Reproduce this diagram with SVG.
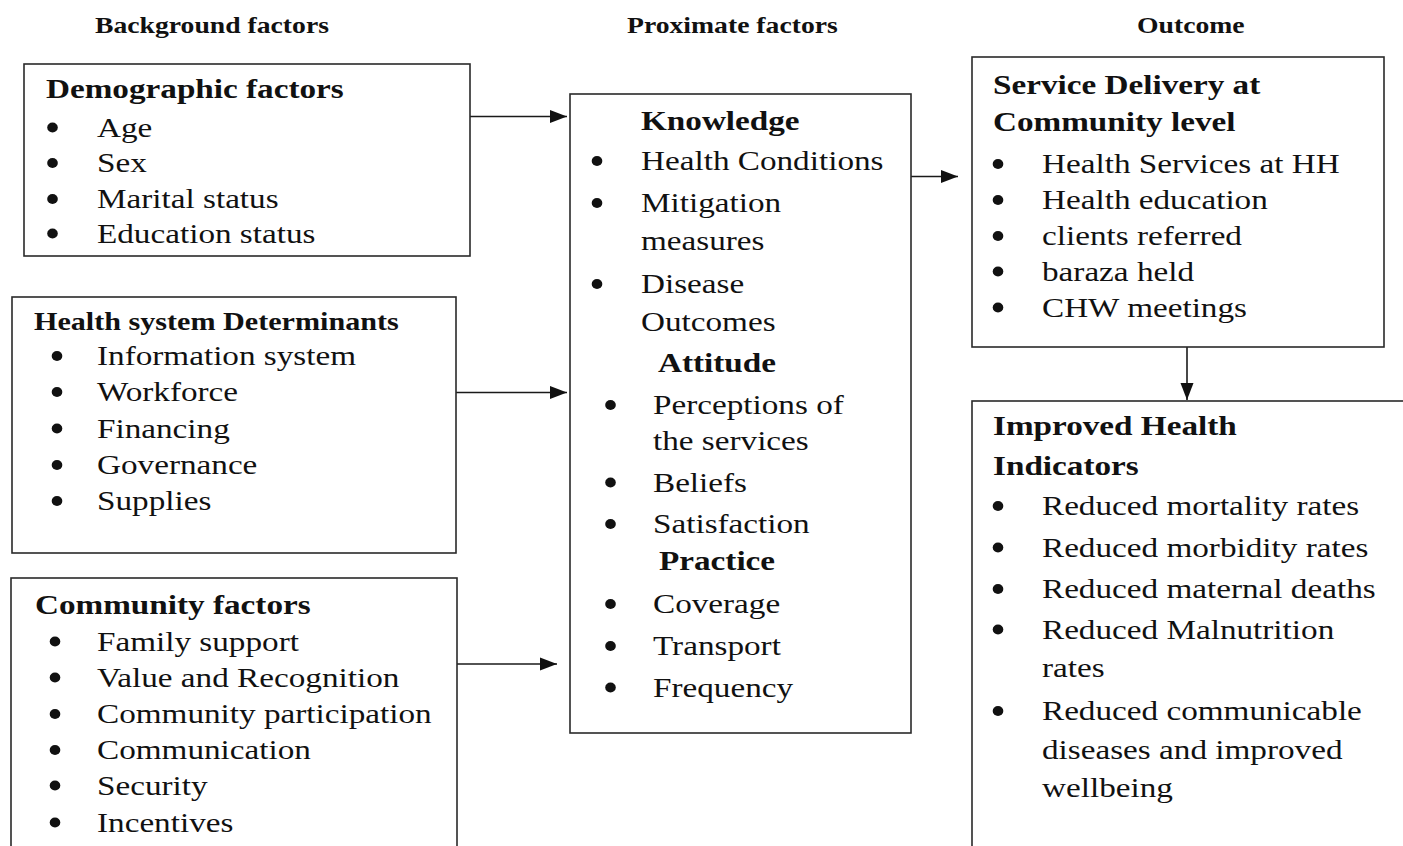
<svg xmlns="http://www.w3.org/2000/svg" width="1403" height="846" viewBox="0 0 1403 846">
<style>
text{font-family:"Liberation Serif","Times New Roman",serif;fill:#111}
.h{font-size:22.5px;font-weight:bold}
.t{font-size:27px;font-weight:bold}
.t2{font-size:24.5px;font-weight:bold}
.b{font-size:27px}
.box{fill:#fff;stroke:#2a2a2a;stroke-width:1.6}
.con{stroke:#1a1a1a;stroke-width:1.6;fill:none}
.bul{fill:#111}
</style>
<defs>
<marker id="ah" markerUnits="userSpaceOnUse" markerWidth="18" markerHeight="14" refX="17" refY="7" orient="auto">
<path d="M0,0.5 L17,7 L0,13.5 z" fill="#111"/>
</marker>
</defs>
<rect width="1403" height="846" fill="#fff"/>

<g id="headers">
<text class="h" transform="translate(95 33) scale(1.23 1)">Background factors</text>
<text class="h" transform="translate(627 33) scale(1.23 1)">Proximate factors</text>
<text class="h" transform="translate(1137 33) scale(1.23 1)">Outcome</text>
</g>

<g id="connectors">
<line class="con" x1="470" y1="116.5" x2="567" y2="116.5" marker-end="url(#ah)"/>
<line class="con" x1="456" y1="392.5" x2="567" y2="392.5" marker-end="url(#ah)"/>
<line class="con" x1="457" y1="664" x2="557" y2="664" marker-end="url(#ah)"/>
<line class="con" x1="911" y1="176.5" x2="958" y2="176.5" marker-end="url(#ah)"/>
<line class="con" x1="1187" y1="347" x2="1187" y2="400" marker-end="url(#ah)"/>
</g>

<g id="demographic">
<rect class="box" x="24" y="64" width="446" height="192"/>
<text class="t" transform="translate(46 98) scale(1.23 1)">Demographic factors</text>
<ellipse class="bul" cx="52.5" cy="127.5" rx="5.3" ry="5"/>
<text class="b" transform="translate(97 136.5) scale(1.23 1)">Age</text>
<ellipse class="bul" cx="52.5" cy="163" rx="5.3" ry="5"/>
<text class="b" transform="translate(97 172) scale(1.23 1)">Sex</text>
<ellipse class="bul" cx="52.5" cy="199" rx="5.3" ry="5"/>
<text class="b" transform="translate(97 208) scale(1.23 1)">Marital status</text>
<ellipse class="bul" cx="52.5" cy="233.5" rx="5.3" ry="5"/>
<text class="b" transform="translate(97 242.5) scale(1.23 1)">Education status</text>
</g>

<g id="health-system">
<rect class="box" x="12" y="297" width="444" height="256"/>
<text class="t2" transform="translate(34 330) scale(1.23 1)">Health system Determinants</text>
<ellipse class="bul" cx="57" cy="356" rx="5.3" ry="5"/>
<text class="b" transform="translate(97 365) scale(1.23 1)">Information system</text>
<ellipse class="bul" cx="57" cy="392" rx="5.3" ry="5"/>
<text class="b" transform="translate(97 401) scale(1.23 1)">Workforce</text>
<ellipse class="bul" cx="57" cy="428.5" rx="5.3" ry="5"/>
<text class="b" transform="translate(97 437.5) scale(1.23 1)">Financing</text>
<ellipse class="bul" cx="57" cy="465" rx="5.3" ry="5"/>
<text class="b" transform="translate(97 474) scale(1.23 1)">Governance</text>
<ellipse class="bul" cx="57" cy="501" rx="5.3" ry="5"/>
<text class="b" transform="translate(97 510) scale(1.23 1)">Supplies</text>
</g>

<g id="community">
<rect class="box" x="11" y="578" width="446" height="300"/>
<text class="t" transform="translate(35 613.5) scale(1.23 1)">Community factors</text>
<ellipse class="bul" cx="55" cy="641.5" rx="5.3" ry="5"/>
<text class="b" transform="translate(97 650.5) scale(1.23 1)">Family support</text>
<ellipse class="bul" cx="55" cy="677.5" rx="5.3" ry="5"/>
<text class="b" transform="translate(97 686.5) scale(1.23 1)">Value and Recognition</text>
<ellipse class="bul" cx="55" cy="714" rx="5.3" ry="5"/>
<text class="b" transform="translate(97 723) scale(1.23 1)">Community participation</text>
<ellipse class="bul" cx="55" cy="750" rx="5.3" ry="5"/>
<text class="b" transform="translate(97 759) scale(1.23 1)">Communication</text>
<ellipse class="bul" cx="55" cy="785.5" rx="5.3" ry="5"/>
<text class="b" transform="translate(97 794.5) scale(1.23 1)">Security</text>
<ellipse class="bul" cx="55" cy="822.5" rx="5.3" ry="5"/>
<text class="b" transform="translate(97 831.5) scale(1.23 1)">Incentives</text>
</g>

<g id="proximate">
<rect class="box" x="570" y="94" width="341" height="639"/>
<text class="t" transform="translate(641 130) scale(1.23 1)">Knowledge</text>
<ellipse class="bul" cx="597" cy="161" rx="5.3" ry="5"/>
<text class="b" transform="translate(641 170) scale(1.23 1)">Health Conditions</text>
<ellipse class="bul" cx="597" cy="203" rx="5.3" ry="5"/>
<text class="b" transform="translate(641 212) scale(1.23 1)">Mitigation</text>
<text class="b" transform="translate(641 250) scale(1.23 1)">measures</text>
<ellipse class="bul" cx="597" cy="284" rx="5.3" ry="5"/>
<text class="b" transform="translate(641 293) scale(1.23 1)">Disease</text>
<text class="b" transform="translate(641 331) scale(1.23 1)">Outcomes</text>
<text class="t" transform="translate(658 371.5) scale(1.23 1)">Attitude</text>
<ellipse class="bul" cx="610.5" cy="405" rx="5.3" ry="5"/>
<text class="b" transform="translate(653 414) scale(1.23 1)">Perceptions of</text>
<text class="b" transform="translate(653 450) scale(1.23 1)">the services</text>
<ellipse class="bul" cx="610.5" cy="482.5" rx="5.3" ry="5"/>
<text class="b" transform="translate(653 491.5) scale(1.23 1)">Beliefs</text>
<ellipse class="bul" cx="610.5" cy="524" rx="5.3" ry="5"/>
<text class="b" transform="translate(653 533) scale(1.23 1)">Satisfaction</text>
<text class="t" transform="translate(659 570) scale(1.23 1)">Practice</text>
<ellipse class="bul" cx="610.5" cy="604" rx="5.3" ry="5"/>
<text class="b" transform="translate(653 613) scale(1.23 1)">Coverage</text>
<ellipse class="bul" cx="610.5" cy="646" rx="5.3" ry="5"/>
<text class="b" transform="translate(653 655) scale(1.23 1)">Transport</text>
<ellipse class="bul" cx="610.5" cy="687.5" rx="5.3" ry="5"/>
<text class="b" transform="translate(653 696.5) scale(1.23 1)">Frequency</text>
</g>

<g id="service-delivery">
<rect class="box" x="972" y="57" width="412" height="290"/>
<text class="t" transform="translate(993 93.5) scale(1.23 1)">Service Delivery at</text>
<text class="t" transform="translate(993 130.5) scale(1.23 1)">Community level</text>
<ellipse class="bul" cx="998" cy="164" rx="5.3" ry="5"/>
<text class="b" transform="translate(1042 173) scale(1.23 1)">Health Services at HH</text>
<ellipse class="bul" cx="998" cy="200" rx="5.3" ry="5"/>
<text class="b" transform="translate(1042 209) scale(1.23 1)">Health education</text>
<ellipse class="bul" cx="998" cy="236" rx="5.3" ry="5"/>
<text class="b" transform="translate(1042 245) scale(1.23 1)">clients referred</text>
<ellipse class="bul" cx="998" cy="271.5" rx="5.3" ry="5"/>
<text class="b" transform="translate(1042 280.5) scale(1.23 1)">baraza held</text>
<ellipse class="bul" cx="998" cy="307.5" rx="5.3" ry="5"/>
<text class="b" transform="translate(1042 316.5) scale(1.23 1)">CHW meetings</text>
</g>

<g id="health-indicators">
<rect class="box" x="972" y="401" width="480" height="500"/>
<text class="t" transform="translate(993 435) scale(1.23 1)">Improved Health</text>
<text class="t" transform="translate(993 475) scale(1.23 1)">Indicators</text>
<ellipse class="bul" cx="998" cy="506" rx="5.3" ry="5"/>
<text class="b" transform="translate(1042 515) scale(1.23 1)">Reduced mortality rates</text>
<ellipse class="bul" cx="998" cy="547.5" rx="5.3" ry="5"/>
<text class="b" transform="translate(1042 556.5) scale(1.23 1)">Reduced morbidity rates</text>
<ellipse class="bul" cx="998" cy="589" rx="5.3" ry="5"/>
<text class="b" transform="translate(1042 598) scale(1.23 1)">Reduced maternal deaths</text>
<ellipse class="bul" cx="998" cy="629.5" rx="5.3" ry="5"/>
<text class="b" transform="translate(1042 638.5) scale(1.23 1)">Reduced Malnutrition</text>
<text class="b" transform="translate(1042 676.5) scale(1.23 1)">rates</text>
<ellipse class="bul" cx="998" cy="711" rx="5.3" ry="5"/>
<text class="b" transform="translate(1042 720) scale(1.23 1)">Reduced communicable</text>
<text class="b" transform="translate(1042 758.5) scale(1.23 1)">diseases and improved</text>
<text class="b" transform="translate(1042 796.5) scale(1.23 1)">wellbeing</text>
</g>
</svg>
